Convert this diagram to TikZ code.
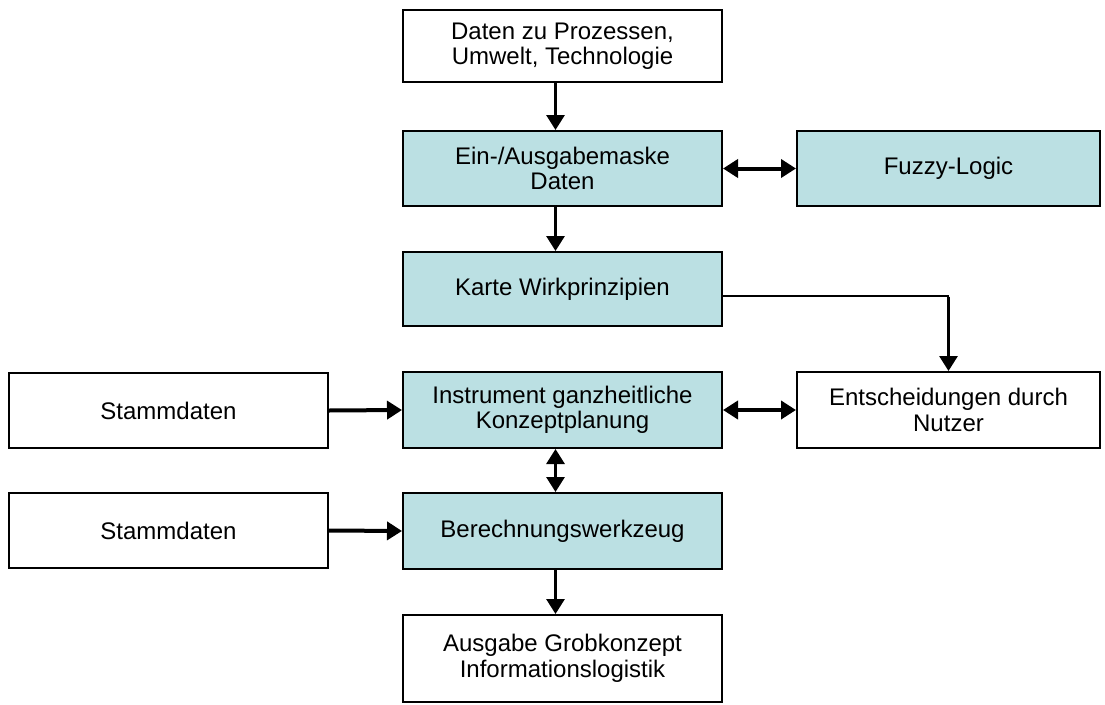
\documentclass[tikz,border=0pt]{standalone}
\usepackage{fontspec}
\setmainfont{Liberation Sans}
\usetikzlibrary{arrows.meta}
\definecolor{boxteal}{RGB}{187,224,227}
\begin{document}
\begin{tikzpicture}[x=1pt,y=-1pt,
  box/.style={draw=black,line width=2pt,fill=white,inner sep=0pt,
    align=center,font=\fontsize{24}{25.5}\selectfont},
  tealbox/.style={box,fill=boxteal},
  wide/.style={minimum width=319pt},
  side/.style={minimum width=303pt},
  tip/.tip={Triangle[length=15pt,width=18pt]},
  conn/.style={line width=3pt,-tip},
  hconn/.style={line width=4pt,-tip},
  dconn/.style={line width=3pt,tip-tip},
  dhconn/.style={line width=4pt,tip-tip},
  thinline/.style={line width=1.3pt}]
\useasboundingbox (0,0) rectangle (1105,704);
% main column
\node[box,wide,minimum height=72pt] (daten) at (562.5,46) {Daten zu Prozessen,\\Umwelt, Technologie};
\node[tealbox,wide,minimum height=75pt] (maske) at (562.5,168.5) {Ein-/Ausgabemaske\\Daten};
\node[tealbox,wide,minimum height=74pt] (karte) at (562.5,289) {Karte Wirkprinzipien};
\node[tealbox,wide,minimum height=76pt] (instr) at (562.5,410) {Instrument ganzheitliche\\Konzeptplanung};
\node[tealbox,wide,minimum height=76pt] (berech) at (562.5,531) {Berechnungswerkzeug};
\node[box,wide,minimum height=87pt] (ausgabe) at (562.5,658.5) {Ausgabe Grobkonzept\\Informationslogistik};
% right column
\node[tealbox,side,minimum height=75pt] (fuzzy) at (948.5,168.5) {Fuzzy-Logic};
\node[box,side,minimum height=76pt] (nutzer) at (948.5,410) {Entscheidungen durch\\Nutzer};
% left column
\node[box,wide,minimum height=75pt] (stamm1) at (168.5,410.5) {Stammdaten};
\node[box,wide,minimum height=75pt] (stamm2) at (168.5,530.5) {Stammdaten};
% connectors
\draw[conn] ([xshift=-7pt]daten.south) -- ([xshift=-7pt]maske.north);
\draw[conn] ([xshift=-7pt]maske.south) -- ([xshift=-7pt]karte.north);
\draw[dhconn] (maske.east) -- (fuzzy.west);
\coordinate (knick) at ([yshift=-7pt]karte.east -| nutzer.north);
\draw[thinline] ([yshift=-7pt]karte.east) -- (knick);
\draw[conn] ([yshift=-0.65pt]knick) -- (nutzer.north);
\draw[dhconn] (instr.east) -- (nutzer.west);
\draw[hconn] (stamm1.east) -- (instr.west);
\draw[hconn] (stamm2.east) -- (berech.west);
\draw[dconn] ([xshift=-7pt]instr.south) -- ([xshift=-7pt]berech.north);
\draw[conn] ([xshift=-7pt]berech.south) -- ([xshift=-7pt]ausgabe.north);
\end{tikzpicture}
\end{document}
